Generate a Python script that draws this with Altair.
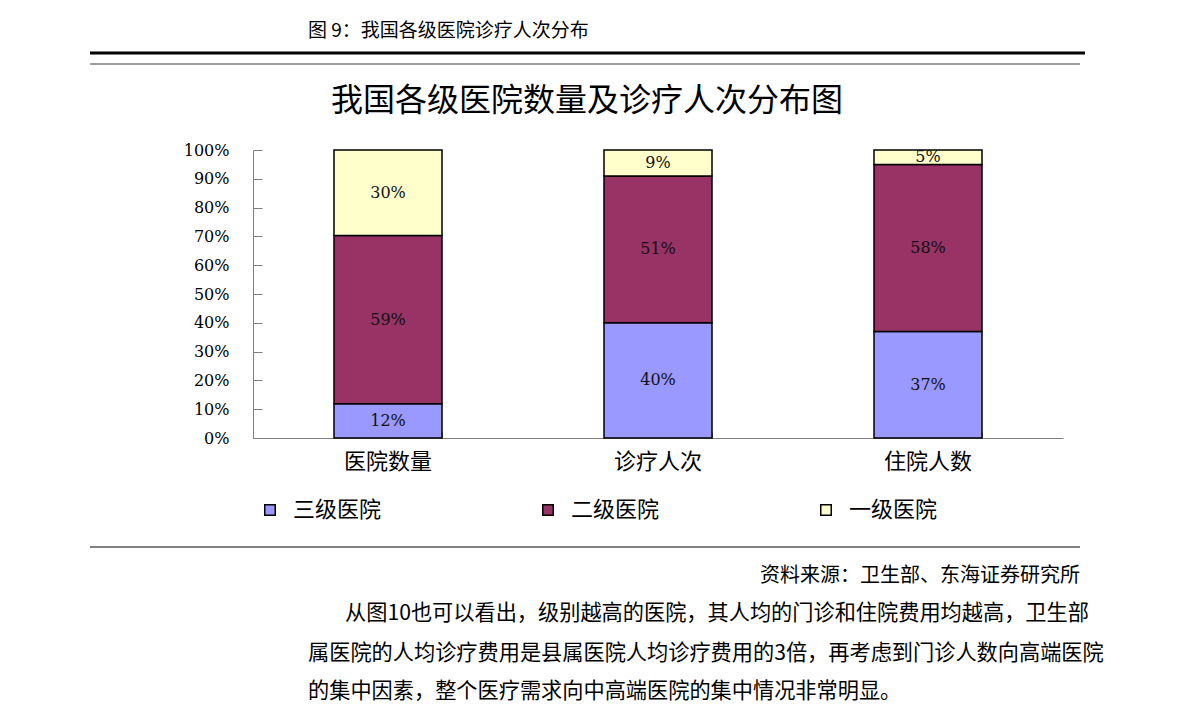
import altair as alt
import pandas as pd

# ---- data ----
categories = ["医院数量", "诊疗人次", "住院人数"]
levels = ["三级医院", "二级医院", "一级医院"]
tier3 = [12, 40, 37]
tier2 = [59, 51, 58]
tier1 = [30, 9, 5]
colors = ["#9999FF", "#993366", "#FFFFCC"]
y_ticks = [0, 0.1, 0.2, 0.3, 0.4, 0.5, 0.6, 0.7, 0.8, 0.9, 1.0]

header = "图 9：我国各级医院诊疗人次分布"
title = "我国各级医院数量及诊疗人次分布图"
source = "资料来源：卫生部、东海证券研究所"
para = [
    "从图10也可以看出，级别越高的医院，其人均的门诊和住院费用均越高，卫生部",
    "属医院的人均诊疗费用是县属医院人均诊疗费用的3倍，再考虑到门诊人数向高端医院",
    "的集中因素，整个医疗需求向中高端医院的集中情况非常明显。",
]

rows = []
for ci, c in enumerate(categories):
    for li, (lv, series) in enumerate(zip(levels, [tier3, tier2, tier1])):
        rows.append({"cat": c, "level": lv, "idx": li, "value": series[ci]})
df = pd.DataFrame(rows)

CJK = "Noto Sans CJK SC"
SERIF = "DejaVu Serif"
W, H = 810, 288
L, T = 253, 150

xscale = alt.Scale(domain=categories, paddingInner=0.6, paddingOuter=0.3)
yscale = alt.Scale(domain=[0, 1])

bars = alt.Chart(df).mark_bar(stroke="black", strokeWidth=1.5).encode(
    x=alt.X("cat:N", sort=categories, scale=xscale,
            axis=alt.Axis(title=None, labelAngle=0, ticks=False, domainColor="#808080",
                          domainWidth=1, labelFont=CJK, labelFontSize=22,
                          labelColor="#000000", labelPadding=13, labelFontWeight="normal")),
    y=alt.Y("value:Q", stack="normalize", scale=yscale,
            axis=alt.Axis(title=None, values=y_ticks, format=".0%", ticks=False, grid=False,
                          domainColor="#808080", domainWidth=1, labelFont=SERIF,
                          labelFontSize=16, labelColor="#000000", labelPadding=24)),
    color=alt.Color("level:N", scale=alt.Scale(domain=levels, range=colors),
                    legend=alt.Legend(title=None, orient="none", legendX=6, legendY=349,
                                      direction="horizontal", symbolType="square",
                                      symbolSize=110, symbolStrokeColor="black",
                                      symbolStrokeWidth=1.5, symbolOpacity=1,
                                      labelFont=CJK, labelFontSize=22, labelColor="#000000",
                                      labelOffset=12, columnPadding=155)),
    order=alt.Order("idx:Q", sort="ascending"),
)

labels = alt.Chart(df).transform_joinaggregate(
    total="sum(value)", groupby=["cat"]
).transform_window(
    cum="sum(value)", groupby=["cat"], sort=[alt.SortField("idx")], frame=[None, 0]
).transform_calculate(
    mid="(datum.cum - datum.value / 2) / datum.total",
    label="datum.value + '%'",
).mark_text(font=SERIF, fontSize=16, color="#111111", baseline="middle").encode(
    x=alt.X("cat:N", sort=categories, scale=xscale,
            axis=alt.Axis(orient="top", offset=-H, labels=False, domain=False, ticks=True,
                          tickBand="extent", tickSize=6, tickColor="#808080", title=None)),
    y=alt.Y("mid:Q", scale=yscale,
            axis=alt.Axis(orient="right", offset=-W, labels=False, domain=False, ticks=True,
                          values=y_ticks, tickSize=9, tickColor="#808080", grid=False,
                          title=None)),
    text="label:N",
)

one = alt.Data(values=[{"a": 1}])


def txt(s, x, y, size, align="left", font=CJK):
    return alt.Chart(one).mark_text(
        text=s, align=align, baseline="middle", font=font, fontSize=size, color="#000000"
    ).encode(x=alt.value(x), y=alt.value(y))


def rule(x1, x2, y, color, width):
    return alt.Chart(one).mark_rule(color=color, strokeWidth=width).encode(
        x=alt.value(x1), x2=alt.value(x2), y=alt.value(y)
    )


deco = [
    txt(header, 308 - L, 31 - T, 19),
    rule(90 - L, 1085 - L, 53 - T, "#000000", 3),
    rule(90 - L, 1080 - L, 64 - T, "#808080", 1.5),
    txt(title, 587 - L, 101 - T, 32, align="center"),
    rule(90 - L, 1080 - L, 547 - T, "#808080", 2),
    txt(source, 1080 - L, 576 - T, 20, align="right"),
    txt(para[0], 345 - L, 614 - T, 21.2),
    txt(para[1], 308 - L, 654 - T, 21.2),
    txt(para[2], 308 - L, 692 - T, 21.2),
]

chart = alt.layer(bars, labels, *deco).resolve_axis(x="independent", y="independent").properties(
    width=W, height=H,
    autosize=alt.AutoSizeParams(type="none"),
    padding={"left": L, "top": T, "right": 1190 - L - W, "bottom": 724 - T - H},
    background="white",
).configure_view(stroke=None)

chart.save("out.html", embed_options={"renderer": "svg", "actions": False})
